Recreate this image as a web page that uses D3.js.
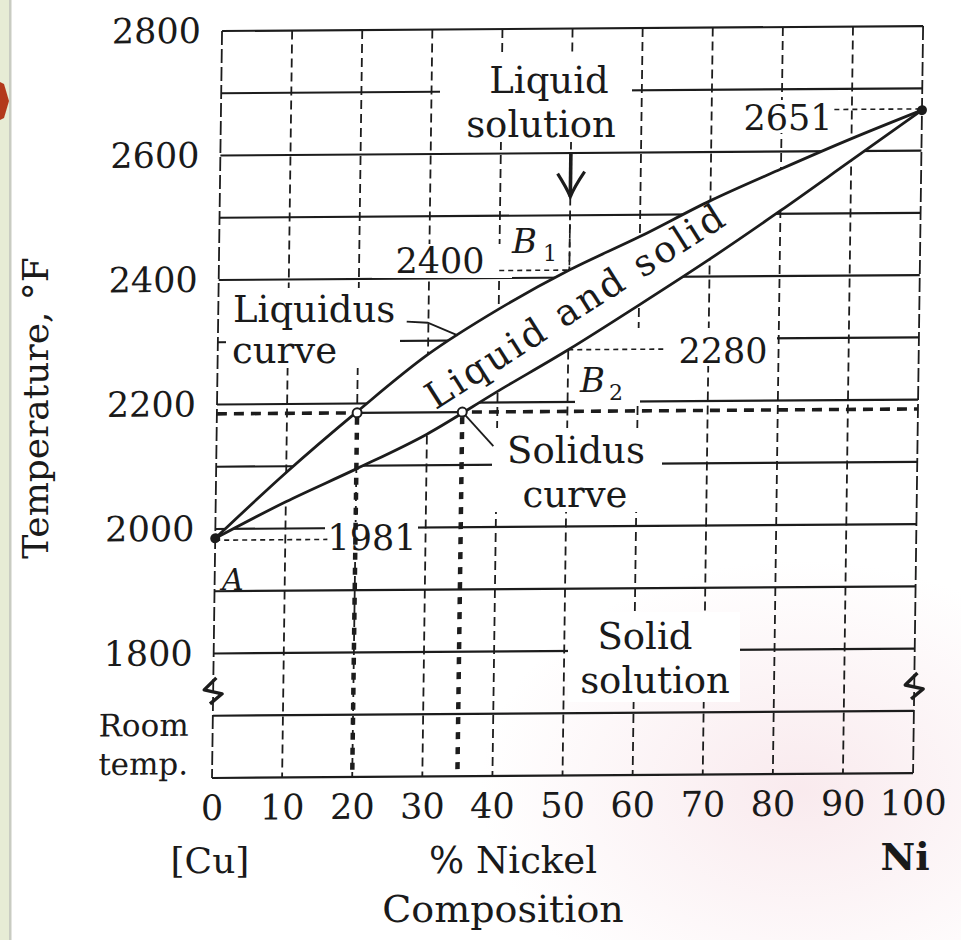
<!DOCTYPE html>
<html><head><meta charset="utf-8">
<script src="https://cdn.jsdelivr.net/npm/d3@7"></script>
<style>
html,body{margin:0;padding:0;background:#fff;}
svg{display:block;}
text{font-family:"DejaVu Serif", serif; fill:#1a1a1a;}
</style></head><body>
<svg id="c" width="961" height="940"></svg>
<script>
// ---------------- data ----------------
const nickelPct  = [0,10,20,30,40,50,60,70,80,90,100];
const liquidusF  = [1985,2090,2187,2278,2350,2412,2465,2522,2572,2620,2665];
const solidusF   = [1985,2043,2095,2150,2218,2284,2355,2428,2505,2585,2665];
const xTicks     = [0,10,20,30,40,50,60,70,80,90,100];
const yTicks     = [2800,2600,2400,2200,2000,1800];
const gridTemps  = [2800,2700,2600,2500,2400,2300,2200,2100,2000,1900,1800,1700,1600];
const tieLine    = {temp:2185, xLiquid:20, xSolid:35};
const pointB1    = {x:50, temp:2412, label:"2400"};
const pointB2    = {x:50, temp:2284, label:"2280"};
const meltCu     = {x:0,   temp:1985, label:"1981"};
const meltNi     = {x:100, temp:2665, label:"2651"};
const arrowB     = {x:50, from:2600, to:2530};
const breakMarks = [{x:0,temp:1740},{x:100,temp:1740}];
const roomTempLines = ["Room","temp."];
const roomTempLevels = [1668, 1606];

// ---------------- setup ----------------
const svg = d3.select("#c");
const W = 961, H = 940;
const x = d3.scaleLinear().domain([0,100]).range([212,913]);
const y = d3.scaleLinear().domain([1600,2800]).range([778,31]);
const skew = "translate(212,778) skewX(-0.77) skewY(-0.4) translate(-212,-778)";
const ink = "#1c1c1c";

// background / slide decoration
const defs = svg.append("defs");
const rg = defs.append("radialGradient").attr("id","pink");
rg.append("stop").attr("offset","0%").attr("stop-color","#f5dce2").attr("stop-opacity",0.6);
rg.append("stop").attr("offset","100%").attr("stop-color","#f5dce2").attr("stop-opacity",0);
svg.append("rect").attr("width",W).attr("height",H).attr("fill","#fff");
svg.append("ellipse").attr("cx",800).attr("cy",790).attr("rx",320).attr("ry",230).attr("fill","url(#pink)");
svg.append("rect").attr("x",0).attr("y",0).attr("width",9).attr("height",H).attr("fill","#e7ecd5");
svg.append("rect").attr("x",9).attr("y",0).attr("width",2.5).attr("height",H).attr("fill","#c9ccc2");
svg.append("path").attr("d","M0,82 L4,84 L9,101 L4,118 L0,120 Z").attr("fill","#b3391b");

// ---------------- grid (skewed like the scan) ----------------
const gGrid = svg.append("g").attr("transform", skew);
gGrid.selectAll("line.h").data(gridTemps).join("line").attr("class","h")
  .attr("x1",x(0)).attr("x2",x(100)).attr("y1",d=>y(d)).attr("y2",d=>y(d))
  .attr("stroke",ink).attr("stroke-width",2.2);
gGrid.selectAll("line.v").data(xTicks).join("line").attr("class","v")
  .attr("x1",d=>x(d)).attr("x2",d=>x(d)).attr("y1",y(2800)).attr("y2",y(1600))
  .attr("stroke",ink).attr("stroke-width",1.8)
  .attr("stroke-dasharray",d=>(d===0||d===100)?"14,4":"9,5");
gGrid.append("line")
  .attr("x1",x(0)).attr("x2",x(100)).attr("y1",y(tieLine.temp)).attr("y2",y(tieLine.temp))
  .attr("stroke",ink).attr("stroke-width",3.6).attr("stroke-dasharray","10,7");

// ---------------- white backgrounds behind labels ----------------
const bgs = [
  [440,56,192,86],[742,100,93,33],[372,244,140,34],[508,222,52,40],
  [226,288,174,80],[585,328,192,38],[575,358,65,45],[492,428,170,84],
  [325,522,93,32],[568,612,172,90]
];
svg.append("g").selectAll("rect").data(bgs).join("rect")
  .attr("x",d=>d[0]).attr("y",d=>d[1]).attr("width",d=>d[2]).attr("height",d=>d[3])
  .attr("fill","#fff");

// ---------------- marks ----------------
const g = svg.append("g").attr("transform", skew);
const rows = nickelPct.map((n,i)=>({n, l:liquidusF[i], s:solidusF[i]}));
const interp = (arr, v) => {
  const i = Math.min(Math.floor(v/10), 9), t = (v - nickelPct[i])/10;
  return arr[i] + t*(arr[i+1]-arr[i]);
};

g.append("path").datum(rows)
  .attr("d", d3.area().x(d=>x(d.n)).y0(d=>y(d.s)).y1(d=>y(d.l)).curve(d3.curveMonotoneX))
  .attr("fill","#fff");

// vertical dotted composition lines from tie line
g.selectAll("line.drop").data([tieLine.xLiquid, tieLine.xSolid]).join("line").attr("class","drop")
  .attr("x1",d=>x(d)).attr("x2",d=>x(d)).attr("y1",y(tieLine.temp)+5).attr("y2",y(1600))
  .attr("stroke",ink).attr("stroke-width",4.5).attr("stroke-dasharray","7,8");

g.append("path").attr("d", d3.line().x(d=>x(d.n)).y(d=>y(d.l)).curve(d3.curveMonotoneX)(rows))
  .attr("fill","none").attr("stroke",ink).attr("stroke-width",2.8);
g.append("path").attr("d", d3.line().x(d=>x(d.n)).y(d=>y(d.s)).curve(d3.curveMonotoneX)(rows))
  .attr("fill","none").attr("stroke",ink).attr("stroke-width",2.8);

// tie line
g.append("line").attr("x1",x(tieLine.xLiquid)).attr("x2",x(tieLine.xSolid))
  .attr("y1",y(tieLine.temp)).attr("y2",y(tieLine.temp))
  .attr("stroke",ink).attr("stroke-width",2.2);
g.selectAll("circle.tie").data([tieLine.xLiquid, tieLine.xSolid]).join("circle").attr("class","tie")
  .attr("cx",d=>x(d)).attr("cy",y(tieLine.temp)).attr("r",4.5)
  .attr("fill","#fff").attr("stroke",ink).attr("stroke-width",2);

// melting points
g.selectAll("circle.melt").data([meltCu, meltNi]).join("circle").attr("class","melt")
  .attr("cx",d=>x(d.x)).attr("cy",d=>y(d.temp)).attr("r",5).attr("fill",ink);

// thin dashed leaders
const dash = (x1,t1,x2,t2) => g.append("line")
  .attr("x1",x(x1)).attr("y1",y(t1)).attr("x2",x(x2)).attr("y2",y(t2))
  .attr("stroke",ink).attr("stroke-width",1.6).attr("stroke-dasharray","5,4");
dash(pointB1.x, 2500, pointB1.x, pointB1.temp);
dash(40, pointB1.temp, pointB1.x, pointB1.temp);
dash(pointB2.x, pointB2.temp, 64, pointB2.temp);
dash(meltCu.x, meltCu.temp - 3, 16, meltCu.temp - 3);
dash(87.5, meltNi.temp + 2, meltNi.x, meltNi.temp + 2);

// label leaders
g.append("path")
  .attr("d", `M${x(26.9)},${y(2331)} L${x(29.9)},${y(2329)} L${x(34.2)},${y(interp(liquidusF,34.2))}`)
  .attr("fill","none").attr("stroke",ink).attr("stroke-width",1.8);
g.append("line").attr("x1",x(tieLine.xSolid)+3).attr("y1",y(tieLine.temp)+3)
  .attr("x2",x(39.5)).attr("y2",y(2130)).attr("stroke",ink).attr("stroke-width",1.8);

// arrow onto B1
g.append("line").attr("x1",x(arrowB.x)).attr("x2",x(arrowB.x))
  .attr("y1",y(arrowB.from)).attr("y2",y(arrowB.to))
  .attr("stroke",ink).attr("stroke-width",3.6);
{
  const ax = x(arrowB.x), ay = y(arrowB.to);
  g.append("path")
    .attr("d",`M${ax-13},${ay-23} Q${ax-4},${ay-9} ${ax},${ay} Q${ax+4},${ay-10} ${ax+14},${ay-25}`)
    .attr("fill","none").attr("stroke",ink).attr("stroke-width",3.2);
}

// axis break marks
g.selectAll("path.brk").data(breakMarks).join("path").attr("class","brk")
  .attr("d",d=>{const cx=x(d.x), cy=y(d.temp); return `M${cx+3},${cy-13} L${cx-9},${cy-1} L${cx+9},${cy+3} L${cx-3},${cy+13}`;})
  .attr("fill","none").attr("stroke",ink).attr("stroke-width",3.4).attr("stroke-linejoin","round");

// axes (tick labels)
const styleAxis = a => {
  a.select(".domain").remove();
  a.selectAll(".tick line").remove();
  a.attr("font-family",null).attr("font-size",null);
  a.selectAll("text").attr("font-size",35).attr("fill",ink);
};
g.append("g").attr("transform",`translate(0,${y(1600)})`)
  .call(d3.axisBottom(x).tickValues(xTicks).tickSize(0).tickPadding(17).tickFormat(d=>d))
  .call(styleAxis);
g.append("g").attr("transform",`translate(${x(0)},0)`)
  .call(d3.axisLeft(y).tickValues(yTicks).tickSize(0).tickPadding(21).tickFormat(d=>d))
  .call(styleAxis);
g.selectAll("text.rt").data(roomTempLines).join("text").attr("class","rt")
  .attr("x",x(0)-24).attr("y",(d,i)=>y(roomTempLevels[i]))
  .attr("text-anchor","end").attr("font-size",31).text(d=>d);

// ---------------- text labels ----------------
const T = svg.append("g");
const txt = (s, px, py, opts={}) => {
  const t = T.append("text").attr("x",px).attr("y",py).text(s)
    .attr("font-size",opts.size||37).attr("text-anchor",opts.anchor||"middle");
  if (opts.italic) t.attr("font-style","italic");
  if (opts.bold) t.attr("font-weight","bold");
  if (opts.transform) t.attr("transform",opts.transform);
  return t;
};
txt("Liquid", 549, 93);
txt("solution", 541, 137);
txt(meltNi.label, 788, 130, {size:35});
txt(pointB1.label, 440, 273, {size:35});
txt("B", 512, 253, {anchor:"start", italic:true, size:34});
txt("1", 543, 261, {anchor:"start", size:22});
txt("Liquidus", 233, 322, {anchor:"start"});
txt("curve", 232, 363, {anchor:"start"});
txt("Liquid and solid", 0, 0, {size:37, transform:"translate(576,306) rotate(-32.5)"})
  .attr("dominant-baseline","central").attr("letter-spacing",3);
txt(pointB2.label, 723, 363, {size:35});
txt("B", 580, 392, {anchor:"start", italic:true, size:34});
txt("2", 609, 400, {anchor:"start", size:22});
txt("Solidus", 576, 463);
txt("curve", 575, 507);
txt(meltCu.label, 372, 550, {size:35});
txt("A", 222, 590, {anchor:"start", italic:true, size:30});
txt("Solid", 645, 649);
txt("solution", 655, 693);
txt("[Cu]", 210, 873, {size:36});
txt("% Nickel", 513, 873);
txt("Ni", 905, 870, {bold:true, size:38});
txt("Composition", 503, 922, {size:38});
txt("Temperature, °F", 0, 0, {size:36, transform:"translate(35,408) rotate(-90)"})
  .attr("dominant-baseline","central");
</script>
</body></html>
